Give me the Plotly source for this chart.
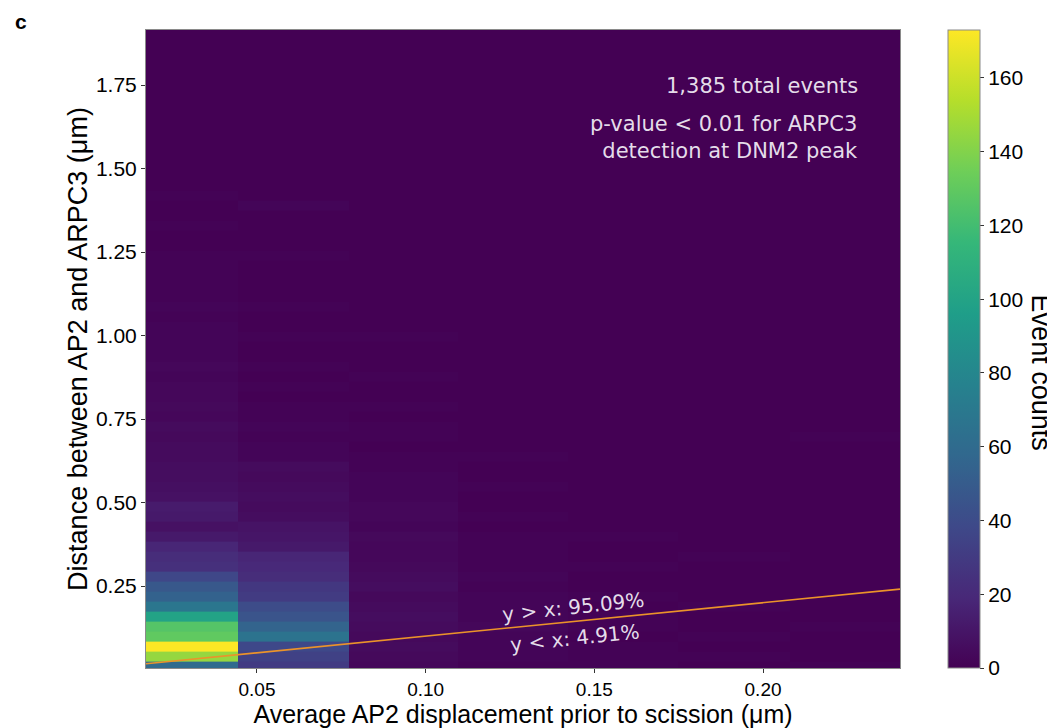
import numpy as np
import plotly.graph_objects as go

# ---- data ----
# x bin edges (average AP2 displacement, µm)
x_edges = [0.0171, 0.0443, 0.0772, 0.1095, 0.1422, 0.1748, 0.2080, 0.2406]
# y bins (distance AP2-ARPC3, µm): start and width of the bins
y_bin_start = -0.007
y_bin_width = 0.030
n_y_bins = 64

# event counts per x-bin column, listed from the lowest y-bin upward
col1 = [60, 145, 173, 130, 126, 100, 68, 54, 48, 37, 24, 22, 18, 12, 8, 12, 13, 8, 7, 6,
        6, 5, 5, 4, 5, 3, 4, 3, 3, 2, 3, 2, 2, 2, 2, 1, 2, 1, 1, 1, 1, 1, 0, 0,
        1, 0, 0, 1, 0, 0, 0, 0, 0, 0, 0, 0, 0, 0, 0, 0, 0, 0, 0, 0]
col2 = [30, 34, 38, 66, 55, 45, 40, 30, 28, 22, 20, 18, 12, 10, 9, 6, 5, 6, 5, 4,
        5, 2, 2, 1, 2, 1, 1, 0, 1, 0, 1, 0, 0, 1, 0, 0, 1, 0, 0, 0, 0, 1, 0, 0,
        0, 0, 2, 0, 0, 0, 0, 0, 0, 0, 0, 0, 0, 0, 0, 0, 0, 0, 0, 0]
col3 = [3, 4, 5, 4, 5, 6, 5, 4, 6, 5, 4, 3, 3, 4, 2, 3, 3, 2, 2, 2, 1, 1, 0, 1,
        1, 0, 1, 0, 0, 1, 0, 0, 0, 1, 0, 0, 0, 0, 0, 0, 0, 0, 0, 0, 0, 0, 0, 0]
col4 = [1, 2, 2, 2, 3, 2, 2, 2, 1, 2, 1, 1, 1, 1, 0, 1, 0, 0, 1, 0, 0, 1, 0, 0]
col5 = [1, 1, 1, 0, 1, 1, 0, 1, 0, 0, 1, 0, 0, 1, 0, 0]
col6 = [0, 1, 0, 1, 0, 0, 1, 0, 0, 0, 0, 1]
col7 = [1, 0, 0, 0, 1, 0, 0, 0, 0, 0, 0, 0, 0, 0, 0, 0, 0, 0, 0, 0, 0, 0, 0, 1]

columns = [col1, col2, col3, col4, col5, col6, col7]
z_max = 173
colorbar_ticks = [0, 20, 40, 60, 80, 100, 120, 140, 160]

x_range = [0.0171, 0.2406]
y_range = [0.0045, 1.9147]
y_ticks = [0.25, 0.50, 0.75, 1.00, 1.25, 1.50, 1.75]
x_ticks = [0.05, 0.10, 0.15, 0.20]

pct_above = "95.09%"
pct_below = "4.91%"
total_events = "1,385"

# ---- build matrix ----
y_edges = [round(y_bin_start + y_bin_width * k, 4) for k in range(n_y_bins + 1)]
Z = np.zeros((n_y_bins, len(columns)))
for j, c in enumerate(columns):
    for i, v in enumerate(c[:n_y_bins]):
        Z[i, j] = v

AX_FONT = "Liberation Sans, Arial, sans-serif"
ANN_FONT = "DejaVu Sans, sans-serif"

fig = go.Figure()
fig.add_trace(go.Heatmap(
    x=x_edges, y=y_edges, z=Z,
    colorscale="Viridis", zmin=0, zmax=z_max,
    hoverinfo="skip",
    colorbar=dict(
        x=1.0637, xanchor="left", xref="paper", xpad=0,
        y=0.5, yanchor="middle", len=1.0, lenmode="fraction", ypad=0,
        thickness=32, outlinecolor="#8a8a8a", outlinewidth=1,
        tickvals=colorbar_ticks, ticks="outside", ticklen=4, tickcolor="#333",
        tickfont=dict(family=AX_FONT, size=21, color="black"),
    ),
))

# y = x reference line
diag = [x_range[0], x_range[1]]
fig.add_trace(go.Scatter(x=diag, y=diag, mode="lines",
                         line=dict(color="#eb932a", width=1.6),
                         hoverinfo="skip", showlegend=False))

fig.update_layout(
    width=1055, height=728,
    margin=dict(l=138, r=163, t=22, b=68, autoexpand=False),
    paper_bgcolor="white", plot_bgcolor="#440154",
    showlegend=False,
    xaxis=dict(range=x_range, tickvals=x_ticks, ticktext=[f"{v:.2f}" for v in x_ticks],
               ticks="outside", ticklen=4, tickcolor="#333", showgrid=False, zeroline=False,
               showline=True, linecolor="#8a8a8a", mirror=True,
               tickfont=dict(family=AX_FONT, size=19, color="black"),
               title=dict(text="Average AP2 displacement prior to scission (μm)",
                          font=dict(family=AX_FONT, size=25, color="black"), standoff=3)),
    yaxis=dict(range=y_range, tickvals=y_ticks, ticktext=[f"{v:.2f}" for v in y_ticks],
               ticks="outside", ticklen=4, tickcolor="#333", showgrid=False, zeroline=False,
               showline=True, linecolor="#8a8a8a", mirror=True,
               tickfont=dict(family=AX_FONT, size=21, color="black"),
               title=dict(text="Distance between AP2 and ARPC3 (μm)",
                          font=dict(family=AX_FONT, size=27, color="black"), standoff=0)),
)

txt_col = "rgba(240,235,245,0.95)"
fig.add_annotation(xref="paper", yref="paper", x=0.947, y=0.912, xanchor="right", yanchor="middle",
                   text=f"{total_events} total events", showarrow=False, align="right",
                   font=dict(family=ANN_FONT, size=21, color=txt_col))
fig.add_annotation(xref="paper", yref="paper", x=0.947, y=0.831, xanchor="right", yanchor="middle",
                   text="p-value < 0.01 for ARPC3<br>detection at DNM2 peak", showarrow=False,
                   align="right", font=dict(family=ANN_FONT, size=21, color=txt_col))
fig.add_annotation(x=0.1437, y=0.187, text=f"y > x: {pct_above}", showarrow=False, textangle=-6,
                   font=dict(family=ANN_FONT, size=20, color=txt_col))
fig.add_annotation(x=0.1443, y=0.0935, text=f"y < x: {pct_below}", showarrow=False, textangle=-6,
                   font=dict(family=ANN_FONT, size=20, color=txt_col))
fig.add_annotation(xref="paper", yref="paper", x=1.187, y=0.463, text="Event counts",
                   showarrow=False, textangle=90, xanchor="center", yanchor="middle",
                   font=dict(family=AX_FONT, size=27, color="black"))
fig.add_annotation(xref="paper", yref="paper", x=-0.177, y=1.013, xanchor="left", yanchor="middle",
                   text="<b>c</b>", showarrow=False,
                   font=dict(family=AX_FONT, size=21, color="black"))

fig.write_html("out.html")
